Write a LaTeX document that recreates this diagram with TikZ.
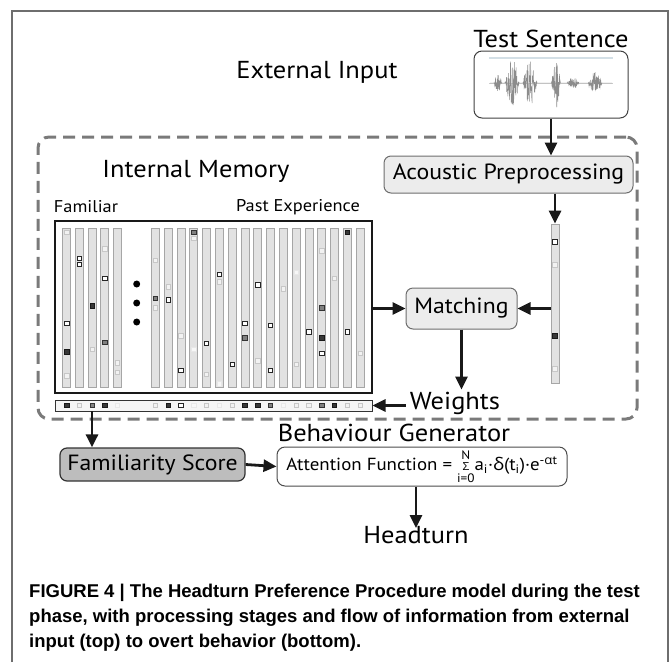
\documentclass[tikz,border=0pt]{standalone}
\usepackage{amsmath}
\usepackage{xcolor}
\usepackage{fontspec}
\setmainfont[FakeStretch=1.08]{PT Sans}
\newfontfamily\grkfont[FakeStretch=1.08]{Open Sans}
\newfontfamily\capfont{Liberation Sans}
\usepackage{tikz}
\usetikzlibrary{arrows.meta, positioning}

\definecolor{framegray}{HTML}{6E6E6E}
\definecolor{dashgray}{HTML}{7A7A7A}
\definecolor{boxfill}{HTML}{ECECEC}
\definecolor{famfill}{HTML}{BDBDBD}
\definecolor{stripefill}{HTML}{E2E2E2}
\definecolor{stripeline}{HTML}{A6A6A6}
\definecolor{wavegray}{HTML}{8C8C8C}
\definecolor{waveblue}{HTML}{D3DFE6}

\tikzset{
  biglabel/.style={font=\fontsize{24.5}{28}\selectfont, inner sep=0pt},
  smalllabel/.style={font=\fontsize{17}{19}\selectfont, inner sep=0pt},
  procbox/.style={draw=framegray, fill=boxfill, rounded corners=7pt, line width=1pt,
    inner sep=0pt, font=\fontsize{22}{25}\selectfont},
  flow/.style={-{Triangle[length=13pt,width=12pt]}, line width=2.8pt, black!90},
  stripe/.style={draw=stripeline, fill=stripefill, line width=0.7pt, inner sep=0pt,
    minimum width=8, minimum height=159},
  sqbase/.style={minimum size=4.4, inner sep=0pt, line width=0.8pt, draw},
  sql/.style={sqbase, draw=black!22, fill=black!5},
  sqo/.style={sqbase, draw=black!85, fill=white},
  sqd/.style={sqbase, draw=black!90, fill=black!78},
  sqm/.style={sqbase, draw=black!80, fill=black!50},
  sqf/.style={sqbase, draw=black!9, fill=black!3},
}

\begin{document}
\pgfmathsetseed{7}
\begin{tikzpicture}[x=1pt, y=-1pt,
    declare function={burst(\t,\c,\w)=max(0,1-((\t-\c)/\w)^2);
      env(\t)=8*burst(\t,498,4)+24*burst(\t,512,7)+22*burst(\t,530,7)
        +26*burst(\t,556,4.5)+5*burst(\t,573,6)+11*burst(\t,595,7);}]
\useasboundingbox (0,0) rectangle (671,662);

% outer frame, open at the bottom
\draw[framegray, line width=1.4pt] (12,662) -- (12,11) -- (668,11) -- (668,662);

% external input
\node[biglabel] (ext) at (317,72) {External Input};
\node[draw=black!75, rounded corners=8pt, line width=1pt, minimum width=154,
  minimum height=67, inner sep=0pt] (sent) at (551,84.5) {};
\node[biglabel] (senttitle) at (551,39) {Test Sentence};
\draw[waveblue, line width=1.2pt] (489,58) -- (613,58);
\draw[black!20, line width=0.6pt] (489,83) -- (613,83);
\draw[wavegray, line width=0.45pt] plot[domain=490:612, samples=520]
  (\x, {83 + env(\x)*rand});

% internal memory region
\node[draw=dashgray, line width=3pt, dash pattern=on 12pt off 7pt, rounded corners=11pt,
  minimum width=599, minimum height=282, inner sep=0pt] (intmem) at (337.5,278) {};
\node[biglabel] (memtitle) at (196,171) {Internal Memory};
\node[procbox, minimum width=249, minimum height=37] (acoustic) at (508.5,174.5)
  {Acoustic Preprocessing};

\node[smalllabel] (familiar) at (86,207) {Familiar};
\node[smalllabel] (past) at (298,207) {Past Experience};
\node[draw=black!90, line width=2pt, minimum width=317, minimum height=172,
  inner sep=0pt] (mem) at (213.5,307) {};

% stored experiences
\foreach \x [count=\i] in {66.7,79.4,92.1,104.8,117.5,155.3,168.1,180.9,193.7,206.5,
    219.4,232.2,245.0,257.8,270.6,283.4,296.2,309.0,321.8,334.6,347.5,360.3}
  \node[stripe] (s\i) at (\x,307.5) {};
\foreach \i/\y/\s [count=\k] in {1/232.3/sql, 1/323.3/sqo, 1/351.7/sqd, 1/376/sql,
    2/258.3/sqo, 2/264.3/sqo, 3/306/sqd, 3/349.3/sql,
    4/249/sql, 4/278.3/sqo, 4/342.3/sqm, 5/362.7/sql, 5/372.3/sql,
    6/260.3/sql, 6/298.3/sqm, 6/308/sql, 7/286.7/sql, 7/300/sqo,
    8/336/sql, 8/370.3/sqo, 9/232.3/sqm, 9/238.3/sql, 9/349.3/sqf,
    10/343.3/sqo, 10/374.3/sql, 11/274.3/sqo, 11/282/sql, 11/384/sqf,
    12/364.3/sqo, 13/323.3/sqo, 13/337.7/sqm, 14/284.7/sqo, 14/360.7/sql,
    15/325.3/sqo, 15/370.3/sqo, 16/288.7/sql, 17/272.3/sqf, 17/364.3/sql,
    18/332/sqo, 19/251/sql, 19/307.7/sqm, 19/337.7/sqd, 19/353.3/sqo,
    20/278.3/sql, 21/232.3/sqd, 21/332/sqo, 22/353.3/sql}
  \node[\s] (q\k) at (s\i |- 0,\y) {};
\foreach \y in {284,303,322}
  \fill (136.7,\y) circle (3.5);

% current input
\node[stripe] (instr) at (555,303.5) {};
\foreach \y/\s [count=\k] in {242/sqo, 265/sql, 336/sqd, 369/sql}
  \node[\s] (iq\k) at (instr |- 0,\y) {};

\node[procbox, minimum width=111, minimum height=41] (match) at (461.5,308.5) {Matching};
\node[biglabel] (weights) at (455,403) {Weights};

% weight vector
\node[draw=black!80, fill=black!4, line width=1pt, minimum width=317, minimum height=11,
  inner sep=0pt] (wbar) at (213.5,405.5) {};
\foreach \i/\s [count=\k] in {1/sqd, 2/sql, 3/sqm, 4/sqd, 5/sqf, 6/sql, 7/sqd, 8/sqo,
    9/sqf, 10/sql, 11/sqf, 12/sql, 13/sqd, 14/sqd, 15/sqm, 16/sqf, 17/sql, 18/sql,
    19/sqm, 20/sqd, 21/sql, 22/sql}
  \node[\s] (w\k) at (s\i |- wbar) {};
\coordinate (wout) at (92,411);

% behaviour generator
\node[procbox, draw=black!80, fill=famfill, line width=1.2pt, minimum width=185,
  minimum height=33] (fam) at (152.5,464.5) {Familiarity Score};
\node[draw=black!70, fill=white, rounded corners=8pt, line width=1pt, minimum width=290,
  minimum height=39, inner sep=0pt, font=\fontsize{17.5}{20}\selectfont] (attn) at (422,466.5)
  {Attention Function = $\mathop{\text{\grkfont\fontsize{11}{11}\selectfont Σ}}\limits_{\text{i=0}}^{\text{N}}$a\textsubscript{i}·{\grkfont δ}(t\textsubscript{i})·e\textsuperscript{-{\grkfont α}t}};
\node[biglabel] (beh) at (394,433) {Behaviour Generator};
\node[biglabel] (head) at (416,535) {Headturn};

% flow of information
\draw[flow] (sent.south) -- (sent.south |- acoustic.north);
\draw[flow] (acoustic.south -| instr) -- (instr.north);
\draw[flow] (instr.west |- match) -- (match.east);
\draw[flow] (mem.east |- match) -- (match.west);
\draw[flow] (match.south) -- ([yshift=2]match.south |- weights.north);
\draw[flow] ([xshift=-4]weights.west |- wbar) -- (wbar.east);
\draw[flow] (wout) -- (wout |- fam.north);
\draw[flow] (fam.east) -- (attn.west);
\draw[flow] (attn.south -| head) -- ([yshift=-2]head.north);

\node[anchor=west, align=left, inner sep=0pt,
  font=\capfont\bfseries\fontsize{18.5}{25}\selectfont] (caption) at (29,618)
  {FIGURE 4 | The Headturn Preference Procedure model during the test\\
   phase, with processing stages and flow of information from external\\
   input (top) to overt behavior (bottom).};
\end{tikzpicture}
\end{document}
